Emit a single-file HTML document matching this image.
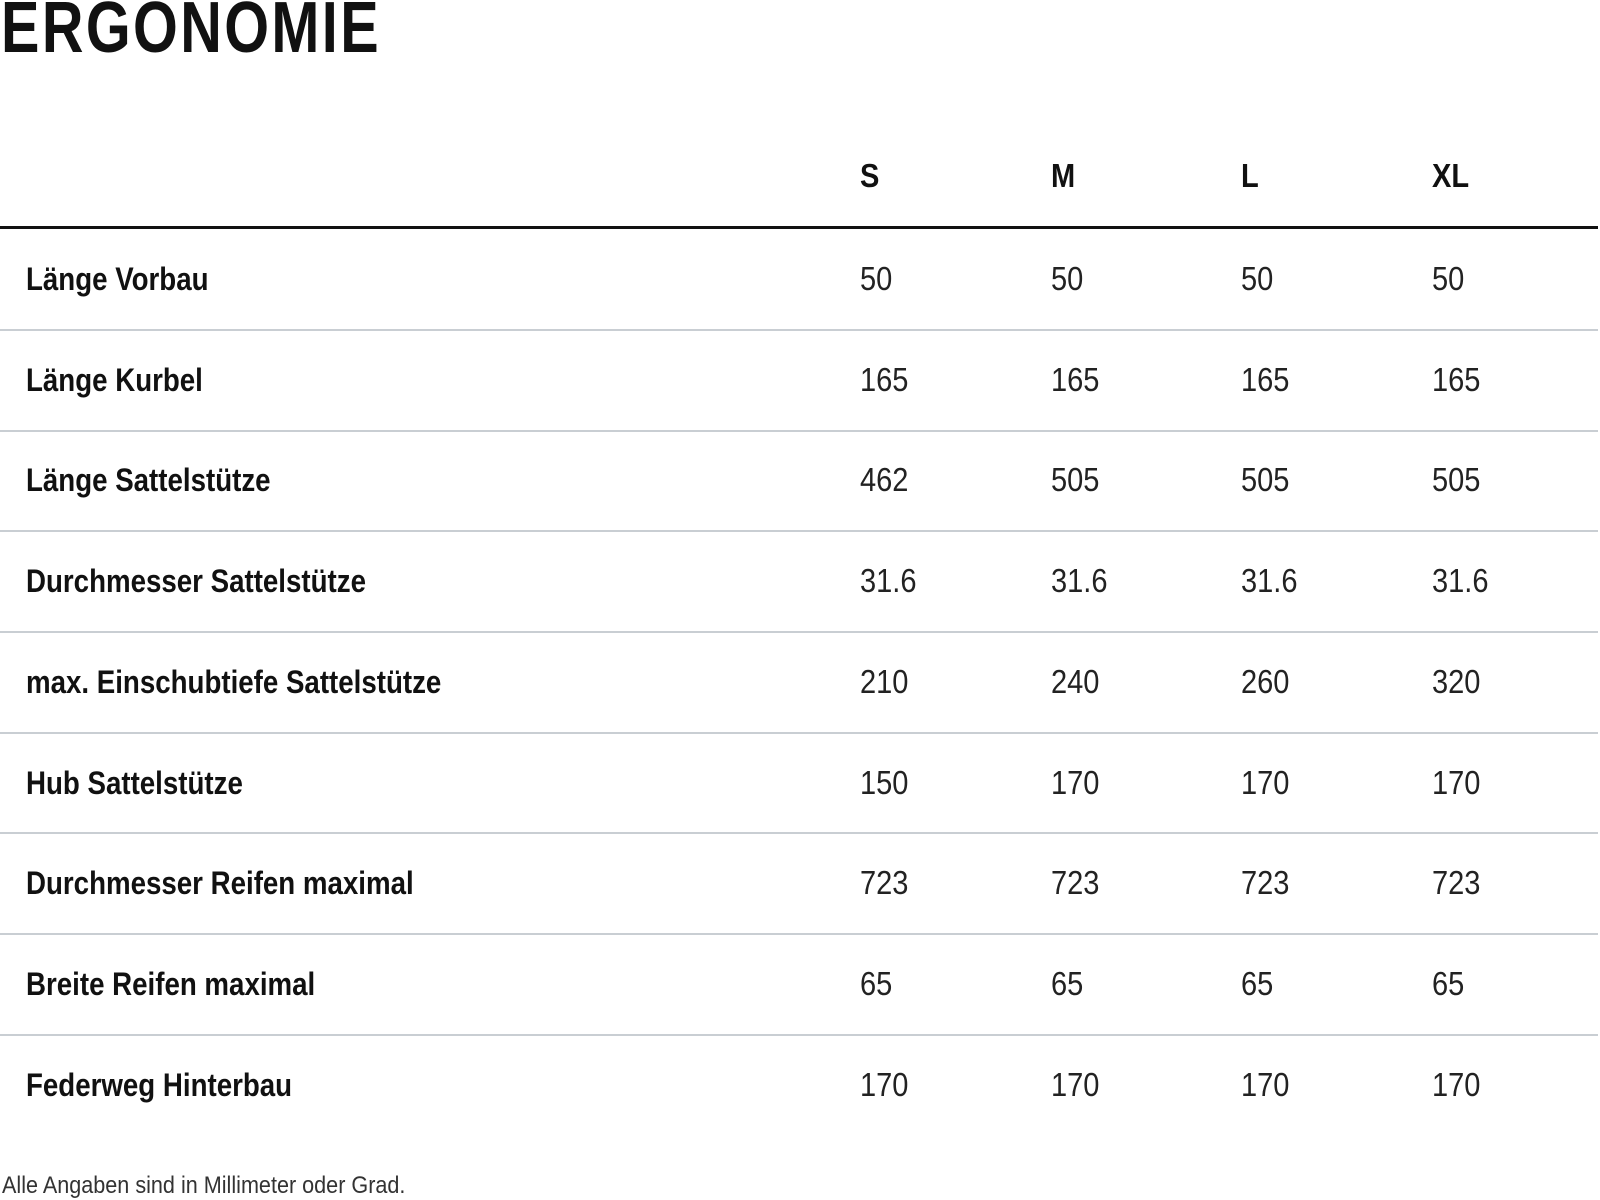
<!DOCTYPE html>
<html><head><meta charset="utf-8"><style>
html,body{margin:0;padding:0;background:#fff;width:1600px;height:1200px;overflow:hidden}
body{position:relative;font-family:"Liberation Sans Narrow","Liberation Sans",sans-serif;color:#111}
div{white-space:nowrap}
.t{position:absolute;left:1px;top:-12px;font-size:72px;font-weight:bold;letter-spacing:3px;line-height:80px;transform:scaleX(0.8);transform-origin:0 0}
.h{position:absolute;top:158px;font-size:33px;font-weight:bold;line-height:36px;transform:scaleX(0.88);transform-origin:0 0}
.thick{position:absolute;left:0;top:226px;width:1598px;height:3px;background:#111}
.ln{position:absolute;left:0;width:1598px;height:2px;background:#c9ced3}
.lb{position:absolute;left:26px;font-size:32px;font-weight:bold;line-height:36px;transform:scaleX(0.865);transform-origin:0 0}
.v{position:absolute;font-size:33px;line-height:36px;color:#222;transform:scaleX(0.88);transform-origin:0 0}
.f{position:absolute;left:2px;top:1172px;font-size:24px;line-height:28px;color:#333;transform:scaleX(0.9);transform-origin:0 0}
</style></head><body>
<div class="t">ERGONOMIE</div>
<div class="h" style="left:860px">S</div>
<div class="h" style="left:1051px">M</div>
<div class="h" style="left:1241px">L</div>
<div class="h" style="left:1432px">XL</div>
<div class="thick"></div>

<div class="lb" style="top:261px">Länge Vorbau</div>
<div class="v" style="top:261px;left:860px">50</div><div class="v" style="top:261px;left:1051px">50</div><div class="v" style="top:261px;left:1241px">50</div><div class="v" style="top:261px;left:1432px">50</div>
<div class="ln" style="top:329px"></div>

<div class="lb" style="top:362px">Länge Kurbel</div>
<div class="v" style="top:362px;left:860px">165</div><div class="v" style="top:362px;left:1051px">165</div><div class="v" style="top:362px;left:1241px">165</div><div class="v" style="top:362px;left:1432px">165</div>
<div class="ln" style="top:430px"></div>

<div class="lb" style="top:462px">Länge Sattelstütze</div>
<div class="v" style="top:462px;left:860px">462</div><div class="v" style="top:462px;left:1051px">505</div><div class="v" style="top:462px;left:1241px">505</div><div class="v" style="top:462px;left:1432px">505</div>
<div class="ln" style="top:530px"></div>

<div class="lb" style="top:563px">Durchmesser Sattelstütze</div>
<div class="v" style="top:563px;left:860px">31.6</div><div class="v" style="top:563px;left:1051px">31.6</div><div class="v" style="top:563px;left:1241px">31.6</div><div class="v" style="top:563px;left:1432px">31.6</div>
<div class="ln" style="top:631px"></div>

<div class="lb" style="top:664px">max. Einschubtiefe Sattelstütze</div>
<div class="v" style="top:664px;left:860px">210</div><div class="v" style="top:664px;left:1051px">240</div><div class="v" style="top:664px;left:1241px">260</div><div class="v" style="top:664px;left:1432px">320</div>
<div class="ln" style="top:732px"></div>

<div class="lb" style="top:765px">Hub Sattelstütze</div>
<div class="v" style="top:765px;left:860px">150</div><div class="v" style="top:765px;left:1051px">170</div><div class="v" style="top:765px;left:1241px">170</div><div class="v" style="top:765px;left:1432px">170</div>
<div class="ln" style="top:832px"></div>

<div class="lb" style="top:865px">Durchmesser Reifen maximal</div>
<div class="v" style="top:865px;left:860px">723</div><div class="v" style="top:865px;left:1051px">723</div><div class="v" style="top:865px;left:1241px">723</div><div class="v" style="top:865px;left:1432px">723</div>
<div class="ln" style="top:933px"></div>

<div class="lb" style="top:966px">Breite Reifen maximal</div>
<div class="v" style="top:966px;left:860px">65</div><div class="v" style="top:966px;left:1051px">65</div><div class="v" style="top:966px;left:1241px">65</div><div class="v" style="top:966px;left:1432px">65</div>
<div class="ln" style="top:1034px"></div>

<div class="lb" style="top:1067px">Federweg Hinterbau</div>
<div class="v" style="top:1067px;left:860px">170</div><div class="v" style="top:1067px;left:1051px">170</div><div class="v" style="top:1067px;left:1241px">170</div><div class="v" style="top:1067px;left:1432px">170</div>

<div class="f">Alle Angaben sind in Millimeter oder Grad.</div>
</body></html>
